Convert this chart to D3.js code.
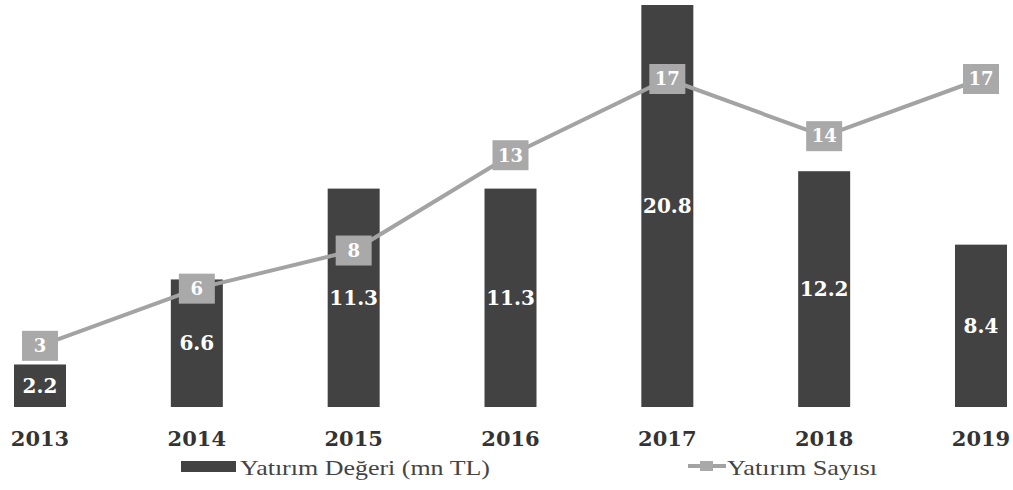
<!DOCTYPE html>
<html><head><meta charset="utf-8">
<script src="https://cdn.jsdelivr.net/npm/d3@7"></script>
<style>body{margin:0;background:#fff}</style>
</head><body>
<svg id="c" width="1013" height="490"></svg>
<script>
const years = ["2013","2014","2015","2016","2017","2018","2019"];
const values = [2.2, 6.6, 11.3, 11.3, 20.8, 12.2, 8.4];
const counts = [3, 6, 8, 13, 17, 14, 17];
const legendLabels = ["Yatırım Değeri (mn TL)", "Yatırım Sayısı"];

const svg = d3.select("#c");
const x = d3.scalePoint().domain(years).range([40, 981]);
const y = d3.scaleLinear().domain([0, 20.8]).range([407, 5]);
const y2 = d3.scaleLinear().domain([0, 17]).range([403, 79]);
const serif = "'DejaVu Serif', 'Liberation Serif', serif";
const legendFont = "'Liberation Serif', serif";
const barW = 52;

svg.selectAll("rect.bar").data(values).join("rect")
  .attr("class","bar")
  .attr("x",(d,i)=>x(years[i])-barW/2).attr("width",barW)
  .attr("y",d=>y(d)).attr("height",d=>y(0)-y(d))
  .attr("fill","#424242");

svg.selectAll("text.bl").data(values).join("text")
  .attr("class","bl")
  .attr("x",(d,i)=>x(years[i])).attr("y",d=>(y(d)+y(0))/2)
  .attr("dy","0.35em").attr("text-anchor","middle")
  .attr("fill","#fff").attr("font-family",serif).attr("font-weight","bold")
  .attr("font-size",20).text(d=>d.toFixed(1));

const line = d3.line().x((d,i)=>x(years[i])).y(d=>y2(d));
svg.append("path").datum(counts).attr("d",line)
  .attr("fill","none").attr("stroke","#a3a3a3").attr("stroke-width",4);

const g = svg.selectAll("g.pt").data(counts).join("g").attr("class","pt")
  .attr("transform",(d,i)=>`translate(${x(years[i])},${y2(d)})`);
g.append("rect").attr("x",-18).attr("y",-15).attr("width",36).attr("height",30).attr("fill","#a9a9a9");
g.append("text").attr("dy","0.35em").attr("text-anchor","middle")
  .attr("fill","#fff").attr("font-family",serif).attr("font-weight","bold")
  .attr("font-size",18).text(d=>d);

svg.append("g").selectAll("text").data(years).join("text")
  .attr("x",d=>x(d)).attr("y",446).attr("text-anchor","middle")
  .attr("fill","#333").attr("font-family",serif).attr("font-weight","bold")
  .attr("font-size",21).text(d=>d);

// legend
svg.append("rect").attr("x",181).attr("y",461).attr("width",55).attr("height",11).attr("fill","#424242");
svg.append("text").attr("x",240).attr("y",475).attr("fill","#444").attr("font-family",legendFont)
  .attr("font-size",21).attr("textLength",250).attr("lengthAdjust","spacingAndGlyphs").text(legendLabels[0]);
svg.append("line").attr("x1",688).attr("x2",726).attr("y1",466).attr("y2",466).attr("stroke","#a3a3a3").attr("stroke-width",4);
svg.append("rect").attr("x",700).attr("y",461).attr("width",13).attr("height",10).attr("fill","#a9a9a9");
svg.append("text").attr("x",727).attr("y",475).attr("fill","#444").attr("font-family",legendFont)
  .attr("font-size",21).attr("textLength",150).attr("lengthAdjust","spacingAndGlyphs").text(legendLabels[1]);
</script>
</body></html>
